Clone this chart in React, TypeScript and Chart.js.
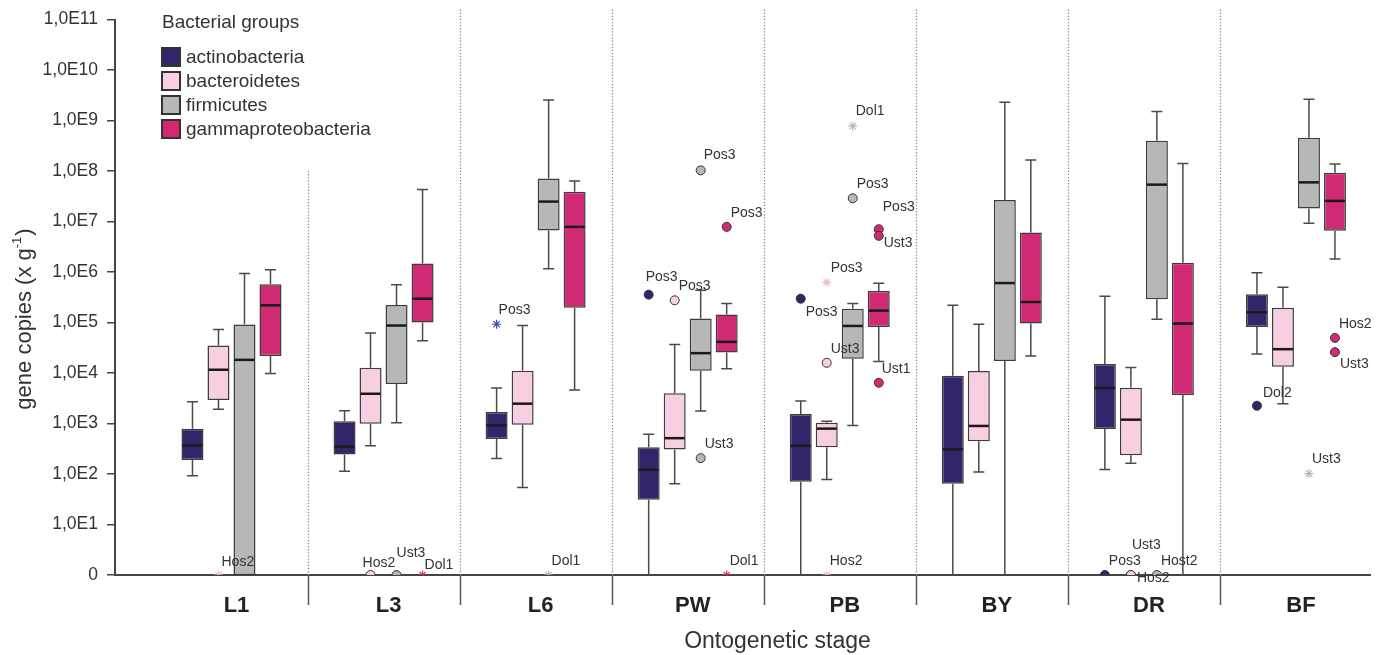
import React, { useEffect, useRef } from 'react';
import { Chart, registerables } from 'chart.js';

Chart.register(...registerables);

const FONT = 'Liberation Sans, Arial, Helvetica, sans-serif';

// ---------- categories / ticks ----------
const stages = ['L1', 'L3', 'L6', 'PW', 'PB', 'BY', 'DR', 'BF'];
const groupNames = ['actinobacteria', 'bacteroidetes', 'firmicutes', 'gammaproteobacteria'];
const yTickValues = [1, 1e1, 1e2, 1e3, 1e4, 1e5, 1e6, 1e7, 1e8, 1e9, 1e10, 1e11];
const yTickLabels = ['0', '1,0E1', '1,0E2', '1,0E3', '1,0E4', '1,0E5', '1,0E6', '1,0E7', '1,0E8', '1,0E9', '1,0E10', '1,0E11'];

// ---------- box statistics (gene copies per g, 0 = none detected) ----------
const actinoMin = [92, 114, 202, 0, 0, 0, 123, 23900];
const actinoQ1 = [190, 243, 495, 31, 70, 64, 780, 81700];
const actinoMedian = [366, 349, 923, 121, 361, 310, 5040, 159000];
const actinoQ3 = [790, 1110, 1690, 340, 1550, 8810, 15000, 361000];
const actinoMax = [2700, 1790, 5040, 614, 2790, 219000, 330000, 968000];

const bacteroMin = [1910, 361, 54, 64, 78, 109, 164, 2470];
const bacteroQ1 = [2920, 993, 948, 305, 340, 446, 236, 13300];
const bacteroMedian = [11600, 3880, 2470, 512, 791, 895, 1190, 29600];
const bacteroQ3 = [35100, 12700, 11100, 3950, 1040, 10900, 5110, 197000];
const bacteroMax = [72600, 62200, 87100, 36700, 1110, 92300, 12900, 497000];

const firmiMin = [0, 1030, 1.16e6, 1770, 908, 0, 116000, 9.25e6];
const firmiQ1 = [0, 6040, 6.62e6, 11100, 19100, 17200, 288000, 1.8e7];
const firmiMedian = [18200, 87100, 2.48e7, 24700, 85500, 604000, 5.37e7, 5.96e7];
const firmiQ3 = [91200, 222000, 7.14e7, 120000, 188000, 2.67e7, 3.96e8, 4.54e8];
const firmiMax = [938000, 561000, 2.56e9, 434000, 237000, 2.3e9, 1.5e9, 2.64e9];

const gammaMin = [9800, 43300, 4590, 12100, 16900, 21600, 0, 1.8e6];
const gammaQ1 = [21600, 99800, 197000, 25500, 81700, 95300, 3660, 6.53e6];
const gammaMedian = [219000, 296000, 7.83e6, 41300, 172000, 255000, 95300, 2.56e7];
const gammaQ3 = [569000, 1.48e6, 3.9e7, 144000, 420000, 6.05e6, 1.53e6, 9.25e7];
const gammaMax = [1.11e6, 4.28e7, 6.34e7, 237000, 596000, 1.65e8, 1.41e8, 1.37e8];

// ---------- outliers / extremes ----------
const outlierStage = ['L1', 'L3', 'L3', 'L3', 'L6', 'L6', 'PW', 'PW', 'PW', 'PW', 'PW', 'PW', 'PB', 'PB', 'PB', 'PB', 'PB', 'PB', 'PB', 'PB', 'PB', 'DR', 'DR', 'DR', 'DR', 'BF', 'BF', 'BF', 'BF'];
const outlierGroup = [1, 1, 2, 3, 0, 2, 2, 3, 0, 1, 2, 3, 2, 2, 3, 3, 1, 0, 1, 3, 1, 0, 1, 1, 2, 3, 3, 0, 2];
const outlierValue = [0, 0, 0, 0, 92300, 0, 1.03e8, 7.83e6, 356000, 275000, 206, 0, 7.73e8, 2.88e7, 7.03e6, 5.2e6, 624000, 296000, 15900, 6410, 0, 0, 0, 0, 0, 49500, 25900, 2250, 102];
const outlierLabel = ['Hos2', 'Hos2', 'Ust3', 'Dol1', 'Pos3', 'Dol1', 'Pos3', 'Pos3', 'Pos3', 'Pos3', 'Ust3', 'Dol1', 'Dol1', 'Pos3', 'Pos3', 'Ust3', 'Pos3', 'Pos3', 'Ust3', 'Ust1', 'Hos2', 'Pos3', 'Ust3', 'Hos2', 'Host2', 'Hos2', 'Ust3', 'Dol2', 'Ust3'];
const outlierExtreme = [true, false, false, true, true, true, false, false, false, false, false, true, true, false, false, false, true, false, false, false, true, false, false, false, false, false, false, false, true];

// label placement relative to the marker (layout only)
const labelDx = [3, -8, 0, 2, 2, 3, 3, 4, -3, 4, 4, 3, 3, 4, 4, 5, 4, 5, 4, 3, 3, 4, 1, 6, 4, 4, 5, 6, 3];
const labelDy = [-13, -12, -22, -10, -14, -14, -15, -14, -18, -14, -14, -14, -15, -14, -22, 7, -14, 13, -14, -14, -14, -14, -30, 3, -14, -14, 12, -13, -14];

// ---------- styles ----------
const groupColors = ['#34246a', '#f8cfe2', '#b6b7b9', '#d02a75'];
const starColors = ['#3b4bc0', '#f3b6d0', '#b9b9bb', '#d02a75'];
const categoryPercentage = 0.684;
const barPercentage = 0.846;

const boxStats = [
  { min: actinoMin, q1: actinoQ1, median: actinoMedian, q3: actinoQ3, max: actinoMax },
  { min: bacteroMin, q1: bacteroQ1, median: bacteroMedian, q3: bacteroQ3, max: bacteroMax },
  { min: firmiMin, q1: firmiQ1, median: firmiMedian, q3: firmiQ3, max: firmiMax },
  { min: gammaMin, q1: gammaQ1, median: gammaMedian, q3: gammaQ3, max: gammaMax },
];

const onAxis = (v: number) => (v > 0 ? v : 1); // "0" sits at the bottom of the log axis

const slot = categoryPercentage / 4;

const whiskerPlugin = {
  id: 'whiskers',
  afterDatasetDraw(chart: any, args: any) {
    const g = args.index;
    if (g > 3) return;
    const st = boxStats[g];
    const yS = chart.scales.y;
    const ctx = chart.ctx;
    const px = (v: number) => yS.getPixelForValue(onAxis(v));
    ctx.save();
    args.meta.data.forEach((el: any, i: number) => {
      const x = el.x;
      const w = el.width;
      ctx.strokeStyle = '#4a4a4a';
      ctx.lineWidth = 1.5;
      ctx.beginPath();
      if (st.max[i] > st.q3[i]) {
        ctx.moveTo(x, px(st.q3[i]));
        ctx.lineTo(x, px(st.max[i]));
        ctx.moveTo(x - 5.5, px(st.max[i]));
        ctx.lineTo(x + 5.5, px(st.max[i]));
      }
      if (st.q1[i] > 0 && st.min[i] < st.q1[i]) {
        ctx.moveTo(x, px(st.q1[i]));
        ctx.lineTo(x, px(st.min[i]));
        if (st.min[i] > 0) {
          ctx.moveTo(x - 5.5, px(st.min[i]));
          ctx.lineTo(x + 5.5, px(st.min[i]));
        }
      }
      ctx.stroke();
      ctx.strokeStyle = '#1a1a1a';
      ctx.lineWidth = 2.5;
      ctx.beginPath();
      const pm = px(st.median[i]);
      ctx.moveTo(x - w / 2 + 1, pm);
      ctx.lineTo(x + w / 2 - 1, pm);
      ctx.stroke();
    });
    ctx.restore();
  },
};

const decorPlugin = {
  id: 'decor',
  beforeDatasetsDraw(chart: any) {
    const { ctx, chartArea } = chart;
    const xS = chart.scales.x;
    const yS = chart.scales.y;
    ctx.save();
    for (let k = 0; k < stages.length - 1; k++) {
      const x = Math.round(xS.getPixelForValue(k + 0.5)) + 0.5;
      const top = k === 0 ? yS.getPixelForValue(1e8) : chartArea.top - 10;
      ctx.strokeStyle = '#8a8a8a';
      ctx.lineWidth = 1.3;
      ctx.setLineDash([1.3, 1.8]);
      ctx.beginPath();
      ctx.moveTo(x, top);
      ctx.lineTo(x, chartArea.bottom);
      ctx.stroke();
      ctx.setLineDash([]);
      ctx.strokeStyle = '#555';
      ctx.lineWidth = 1.5;
      ctx.beginPath();
      ctx.moveTo(x, chartArea.bottom);
      ctx.lineTo(x, chartArea.bottom + 30);
      ctx.stroke();
    }
    ctx.restore();
  },
  afterDatasetsDraw(chart: any) {
    const { ctx } = chart;
    const meta = chart.getDatasetMeta(4);
    ctx.save();
    ctx.font = `14px ${FONT}`;
    ctx.fillStyle = '#333';
    ctx.textAlign = 'left';
    ctx.textBaseline = 'middle';
    meta.data.forEach((pt: any, i: number) => {
      ctx.fillText(outlierLabel[i], pt.x + labelDx[i], pt.y + labelDy[i]);
    });
    ctx.restore();
  },
  afterDraw(chart: any) {
    const { ctx, chartArea } = chart;
    ctx.save();
    // legend
    ctx.fillStyle = '#333';
    ctx.textAlign = 'left';
    ctx.textBaseline = 'middle';
    ctx.font = `19px ${FONT}`;
    ctx.fillText('Bacterial groups', 162, 23);
    groupNames.forEach((name, g) => {
      const cy = 57 + g * 24;
      ctx.fillStyle = groupColors[g];
      ctx.fillRect(162, cy - 9, 18, 18);
      ctx.strokeStyle = '#333';
      ctx.lineWidth = 2;
      ctx.strokeRect(162, cy - 9, 18, 18);
      ctx.fillStyle = '#333';
      ctx.fillText(name, 186, cy + 1);
    });
    // x title
    ctx.font = `23px ${FONT}`;
    ctx.textAlign = 'center';
    ctx.fillText('Ontogenetic stage', (chartArea.left + chartArea.right) / 2 + 35, 642);
    // y title with superscript
    ctx.translate(25, 319);
    ctx.rotate(-Math.PI / 2);
    const main = 'gene copies (x g';
    const sup = '-1';
    const close = ')';
    ctx.font = `22px ${FONT}`;
    const wMain = ctx.measureText(main).width;
    const wClose = ctx.measureText(close).width;
    ctx.font = `13px ${FONT}`;
    const wSup = ctx.measureText(sup).width;
    const total = wMain + wSup + wClose + 1;
    let x0 = -total / 2;
    ctx.textAlign = 'left';
    ctx.font = `22px ${FONT}`;
    ctx.fillText(main, x0, 0);
    x0 += wMain;
    ctx.font = `13px ${FONT}`;
    ctx.fillText(sup, x0, -8);
    x0 += wSup + 1;
    ctx.font = `22px ${FONT}`;
    ctx.fillText(close, x0, 0);
    ctx.restore();
  },
};

export default function App() {
  const ref = useRef<HTMLCanvasElement>(null);

  useEffect(() => {
    const barSets = boxStats.map((st, g) => ({
      type: 'bar' as const,
      label: groupNames[g],
      data: stages.map((_, i) => ({ x: i, y: [onAxis(st.q1[i]), st.q3[i]] })),
      backgroundColor: groupColors[g],
      borderColor: '#3d3d3d',
      borderWidth: 1.5,
      borderSkipped: false,
      categoryPercentage,
      barPercentage,
      order: 1,
    }));

    const scatterSet = {
      type: 'scatter' as const,
      label: 'outliers',
      data: outlierValue.map((v, i) => ({
        x: stages.indexOf(outlierStage[i]) + (outlierGroup[i] - 1.5) * slot,
        y: onAxis(v),
      })),
      pointStyle: outlierExtreme.map((e) => (e ? 'star' : 'circle')),
      pointRadius: outlierExtreme.map((e) => (e ? 4.5 : 4.5)),
      pointBackgroundColor: outlierGroup.map((g) => groupColors[g]),
      pointBorderColor: outlierGroup.map((g, i) => (outlierExtreme[i] ? starColors[g] : '#333')),
      pointBorderWidth: outlierExtreme.map((e) => (e ? 1.2 : 1)),
      clip: { left: false, top: false, right: false, bottom: 0 },
      order: 0,
    };

    const chart = new Chart(ref.current as HTMLCanvasElement, {
      type: 'bar',
      data: { datasets: [...barSets, scatterSet] as any },
      options: {
        animation: false,
        responsive: false,
        devicePixelRatio: 1,
        layout: { padding: { left: 0, top: 18, right: 10, bottom: 0 } },
        plugins: { legend: { display: false }, tooltip: { enabled: false } },
        scales: {
          x: {
            type: 'linear',
            offset: false,
            min: -0.766,
            max: 7.487,
            afterBuildTicks: (s: any) => {
              s.ticks = stages.map((_, i) => ({ value: i }));
            },
            afterFit: (s: any) => {
              s.height = 80;
            },
            grid: { display: false, offset: false },
            border: { display: true, color: '#444', width: 2 },
            ticks: {
              callback: (v: any) => stages[Math.round(v)],
              font: { size: 22, weight: 'bold', family: FONT },
              color: '#222',
              padding: 10,
              labelOffset: 5,
              autoSkip: false,
              maxRotation: 0,
            },
          },
          y: {
            type: 'logarithmic',
            min: 1,
            max: 1e11,
            afterBuildTicks: (s: any) => {
              s.ticks = yTickValues.map((v) => ({ value: v }));
            },
            afterFit: (s: any) => {
              s.width = 115;
            },
            grid: { drawOnChartArea: false, drawTicks: true, tickLength: 8, color: '#444', lineWidth: 1.5 },
            border: { display: true, color: '#444', width: 2 },
            ticks: {
              callback: (v: any) => {
                const idx = yTickValues.indexOf(Number(v));
                return idx >= 0 ? yTickLabels[idx] : '';
              },
              font: { size: 17.5, family: FONT },
              color: '#333',
              padding: 9,
            },
          },
        } as any,
      },
      plugins: [whiskerPlugin, decorPlugin],
    });
    return () => chart.destroy();
  }, []);

  return (
    <div style={{ position: 'fixed', left: 0, top: 0, width: 1380, height: 655, background: '#fff' }}>
      <canvas ref={ref} width={1380} height={655} style={{ display: 'block', width: 1380, height: 655 }} />
    </div>
  );
}
